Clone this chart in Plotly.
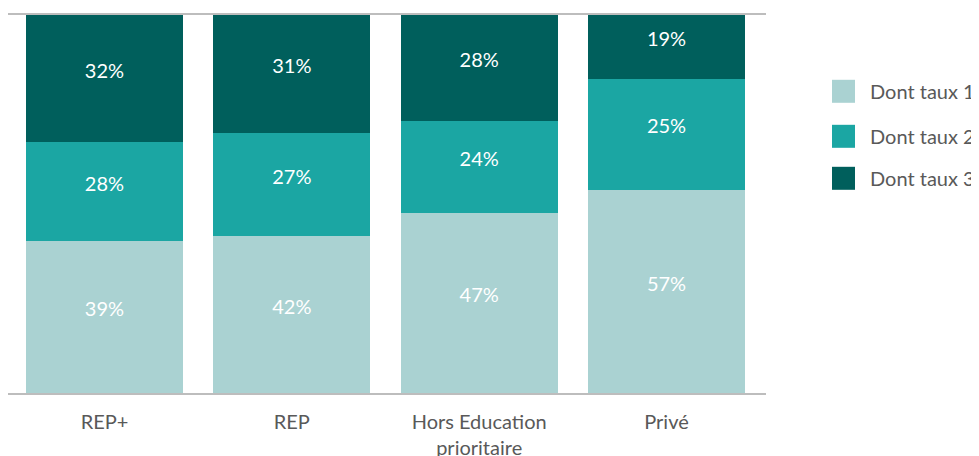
import numpy as np
import plotly.graph_objects as go

categories = ["REP+", "REP", "Hors Education<br>prioritaire", "Privé"]
series_names = ["Dont taux 1", "Dont taux 2", "Dont taux 3"]
# bar heights (percent of total)
taux1 = [40.2, 41.5, 47.6, 53.7]
taux2 = [26.1, 27.3, 24.4, 29.4]
taux3 = [33.6, 31.2, 28.1, 16.9]
# labels printed on the bars
labels1 = ["39%", "42%", "47%", "57%"]
labels2 = ["28%", "27%", "24%", "25%"]
labels3 = ["32%", "31%", "28%", "19%"]
colors = ["#aad2d2", "#1ba6a3", "#005f5c"]

# page body adds an 8px offset
OFF = 8
W, H = 979 - OFF, 456 - OFF
ML, MT = 0, 7
MR = W - 758
MB = H - 385
pw = W - ML - MR
ph = H - MT - MB
YMAX = 100.0
label_lift = 6 * YMAX / ph  # labels sit a few pixels above segment centres

fig = go.Figure()
base = np.zeros(len(categories))
for name, vals, labs, col in zip(series_names, [taux1, taux2, taux3],
                                 [labels1, labels2, labels3], colors):
    vals = np.array(vals)
    fig.add_trace(go.Bar(
        x=categories, y=vals, name=name,
        marker=dict(color=col, line=dict(width=0)),
        showlegend=False, hoverinfo="skip",
    ))
    fig.add_trace(go.Scatter(
        x=categories, y=base + vals / 2 + label_lift, mode="text",
        text=labs, textposition="middle center",
        textfont=dict(color="white", size=20, family="Lato"),
        showlegend=False, hoverinfo="skip", cliponaxis=False,
    ))
    base = base + vals

# custom legend (large square swatches); pixel positions in the page
def px2paper_x(px):
    return (px - OFF - ML) / pw
def px2paper_y(py):
    return (H - MB - (py - OFF)) / ph

legend_y = [91.3, 136.3, 178.3]
for name, col, cy in zip(series_names, colors, legend_y):
    fig.add_shape(type="rect", xref="paper", yref="paper",
                  x0=px2paper_x(832), x1=px2paper_x(855),
                  y0=px2paper_y(cy + 11.5), y1=px2paper_y(cy - 11.5),
                  fillcolor=col, line=dict(width=0))
    fig.add_annotation(xref="paper", yref="paper", x=px2paper_x(868),
                       y=px2paper_y(cy), text=name, showarrow=False,
                       xanchor="left", yanchor="middle",
                       font=dict(size=20, color="#595959", family="Lato"))

fig.update_layout(
    width=W, height=H,
    margin=dict(l=ML, r=MR, t=MT, b=MB, autoexpand=False),
    barmode="stack", bargap=0.162,
    plot_bgcolor="white", paper_bgcolor="white",
    font=dict(family="Lato", color="#595959", size=20),
    showlegend=False,
)
fig.update_xaxes(range=[-0.515, 3.531], showline=True, mirror=True,
                 linecolor="#bdbdbd", linewidth=1.5, ticks="",
                 ticklabelstandoff=10,
                 tickfont=dict(size=20, color="#595959"), showgrid=False)
fig.update_yaxes(range=[0, YMAX], showticklabels=False, showgrid=False,
                 zeroline=False, showline=False)

fig.write_html("out.html")
